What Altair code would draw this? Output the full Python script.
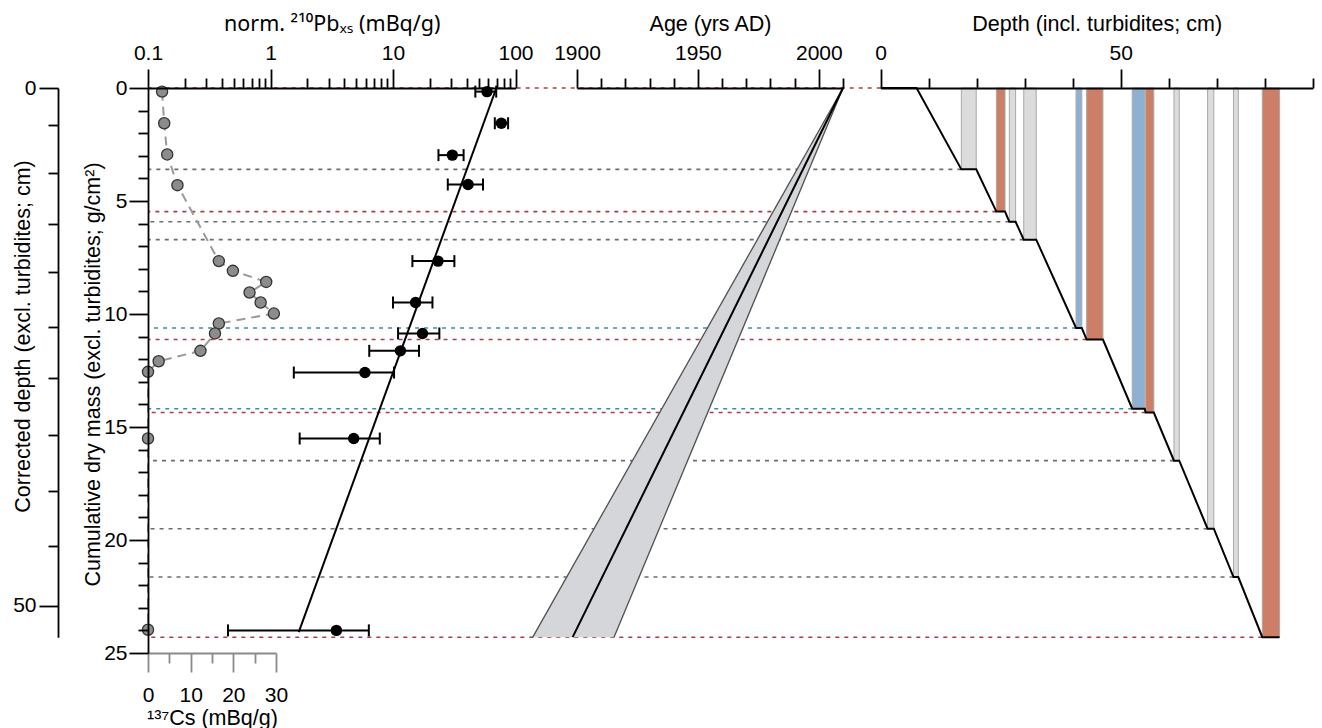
import altair as alt
import pandas as pd

# ---------------- data ----------------
pb_mass = [0.16, 1.56, 2.97, 4.27, 7.66, 9.49, 10.86, 11.63, 12.59, 15.51, 24.0]
pb_val = [58.5, 76.7, 30.5, 41.0, 23.3, 15.3, 17.4, 11.5, 5.9, 4.78, 3.45]
pb_lo = [47.0, 67.8, 23.5, 28.0, 14.4, 10.0, 11.0, 6.4, 1.55, 1.73, 0.45]
pb_hi = [69.6, 87.0, 37.7, 54.3, 31.7, 21.0, 23.9, 16.3, 10.2, 7.8, 6.35]
fit_mass = [0.0, 24.08]
fit_val = [69.8, 1.70]

cs_mass = [0.16, 1.56, 2.94, 4.30, 7.66, 8.09, 8.58, 9.05, 9.49, 9.98, 10.42,
           10.86, 11.63, 12.09, 12.56, 15.51, 23.97]
cs_val = [3.3, 3.8, 4.5, 6.9, 16.6, 19.9, 27.7, 23.8, 26.4, 29.5, 16.6,
          15.7, 12.3, 2.5, 0.0, 0.0, 0.0]

age_mass = [0.0, 24.30]
age_mid = [2010, 1898.2]
age_old = [2010, 1881.7]
age_young = [2010, 1915.3]

hz_mass = [0.0, 3.60, 5.47, 5.92, 6.71, 10.62, 11.13, 14.19, 14.36, 16.49, 19.50, 21.64, 24.30]
hz_top = [0.0, 16.8, 24.1, 26.8, 29.8, 40.7, 42.9, 52.4, 55.2, 61.1, 68.1, 73.5, 79.5]
hz_base = [7.47, 19.9, 25.9, 28.1, 32.4, 41.9, 46.3, 55.0, 56.9, 62.2, 69.4, 74.5, 83.1]
hz_kind = ["red", "gray", "red", "gray", "gray", "blue", "red", "blue", "red",
           "gray", "gray", "gray", "red"]

cd_depth = [0, 5, 10, 15, 20, 25, 30, 35, 40, 45, 50]
cd_mass = [0.0, 1.62, 3.78, 6.02, 8.15, 10.59, 12.83, 15.35, 17.85, 20.27, 22.9]
cd_end_mass = 24.30

age_ticks = [1900, 1950, 2000]

kinds = ["red", "gray", "blue"]
dash_colors = ["#a8404c", "#6e6e6e", "#3f8f9a"]
fill_colors = ["#cc7f66", "#dcdcdc", "#8fafd3"]

# ---------------- tables ----------------
pb_df = pd.DataFrame({"mass": pb_mass, "v": pb_val, "lo": pb_lo, "hi": pb_hi})
caps_df = pd.DataFrame({"v": pb_lo + pb_hi, "mass": pb_mass + pb_mass})
fit_df = pd.DataFrame({"mass": fit_mass, "v": fit_val})
cs_df = pd.DataFrame({"mass": cs_mass, "cs": cs_val})
band_df = pd.DataFrame({"mass": age_mass, "old": age_old, "young": age_young})
edge_df = pd.DataFrame({
    "mass": age_mass + age_mass,
    "year": age_old + age_young,
    "series": ["old"] * len(age_mass) + ["young"] * len(age_mass),
})
mid_df = pd.DataFrame({"mass": age_mass, "year": age_mid})
hz_df = pd.DataFrame({"mass": hz_mass, "top": hz_top, "base": hz_base, "kind": hz_kind})
bars_df = hz_df[hz_df["mass"] > 0].copy()
bars_df["zero"] = 0.0
stair_rows = []
for i, (m, t, b) in enumerate(zip(hz_mass, hz_top, hz_base)):
    stair_rows.append({"depth": t, "mass": m, "ord": 2 * i})
    stair_rows.append({"depth": b, "mass": m, "ord": 2 * i + 1})
stair_df = pd.DataFrame(stair_rows)
cd_df = pd.DataFrame({"cd": cd_depth, "mass": cd_mass})
age_tick_df = pd.DataFrame({"year": age_ticks})

# ---------------- scales ----------------
W, H = 1165, 565
ymass = alt.Scale(domain=[0, 25], range=[0, H], nice=False, zero=False)
cd_scale = alt.Scale(domain=[0, cd_end_mass], range=[0, H * cd_end_mass / 25], nice=False, zero=False)
pb_scale = alt.Scale(type="log", domain=[0.1, 100], range=[0, 367.5], nice=False)
cs_scale = alt.Scale(domain=[0, 30], range=[0, 128], nice=False, zero=False)
age_scale = alt.Scale(domain=[1900, 2010], range=[429, 695], nice=False, zero=False)
dep_scale = alt.Scale(domain=[0, 90], range=[732.7, 1164.7], nice=False, zero=False)

# ---------------- axes ----------------
FS = 21
TFS = 21.5


def axis(orient, values, size, title=None, labels=True, color="black", **kw):
    opts = dict(orient=orient, values=values, tickSize=size, grid=False,
                labelFlush=False, labelOverlap=False, labelBound=False, zindex=1,
                domainColor=color, tickColor=color, domainWidth=1.8, tickWidth=1.8,
                labelFontSize=FS, titleFontSize=TFS, titleFontWeight="normal",
                labelColor="black", titleColor="black", labels=labels, title=title)
    if orient in ("top", "bottom"):
        opts["labelAlign"] = "center"
    opts.update(kw)
    return alt.Axis(**opts)


pb_major = axis("top", [0.1, 1, 10, 100], 19, "norm. ²¹⁰Pbₓₛ (mBq/g)", format="~g",
                labelPadding=6, titlePadding=7, titleFont="Noto Sans")
pb_minor = axis("top", [k * 10.0 ** e for e in (-1, 0, 1) for k in range(2, 10)], 10,
                labels=False, domain=False)
age_major = axis("top", age_ticks, 19, "Age (yrs AD)", format="d",
                 labelPadding=6, titlePadding=7)
age_minor = axis("top", [y for y in range(1910, 2011, 10) if y % 50], 10,
                 labels=False, domain=False)
dep_major = axis("top", [0, 50], 19, "Depth (incl. turbidites; cm)", format="d",
                 labelPadding=6, titlePadding=7)
dep_minor = axis("top", [d for d in range(10, 91, 10) if d != 50], 10,
                 labels=False, domain=False)
cs_major = axis("bottom", [0, 10, 20, 30], 19, "¹³⁷Cs (mBq/g)", color="#8a8a8a",
                format="d", labelPadding=12, titlePadding=2)
cs_minor = axis("bottom", [5, 15, 25], 10, color="#8a8a8a", labels=False, domain=False)
y_major = axis("left", [0, 5, 10, 15, 20, 25], 19,
               "Cumulative dry mass (excl. turbidites; g/cm²)", format="d",
               labelPadding=2, titleX=-55, titleY=286, titleBaseline="middle")
y_minor = axis("left", [v for v in range(1, 25) if v % 5], 10, labels=False, domain=False)
cd_major = axis("left", [cd_mass[0], cd_mass[-1]], 19,
                "Corrected depth (excl. turbidites; cm)", offset=90, labelPadding=3,
                labelExpr=f"datum.value < {cd_mass[1]} ? '{cd_depth[0]}' : '{cd_depth[-1]}'",
                titleX=-35, titleY=248, titleBaseline="middle")
cd_minor = axis("left", cd_mass[1:-1], 10, labels=False, domain=False, offset=90)


def Ym(axis_def=None, field="mass:Q"):
    return alt.Y(field, scale=ymass, axis=axis_def)


# ---------------- layers ----------------
rules = alt.Chart(hz_df).mark_rule(strokeDash=[4, 5], strokeWidth=1.6).encode(
    x=alt.X("top:Q", scale=dep_scale, axis=None),
    x2=alt.value(0),
    y=Ym(),
    color=alt.Color("kind:N", scale=alt.Scale(domain=kinds, range=dash_colors), legend=None),
)

bars = alt.Chart(bars_df).mark_rect(stroke="#a9a9a9", strokeWidth=1).encode(
    x=alt.X("top:Q", scale=dep_scale, axis=dep_major),
    x2="base:Q",
    y=Ym(field="zero:Q"),
    y2="mass:Q",
    fill=alt.Fill("kind:N", scale=alt.Scale(domain=kinds, range=fill_colors), legend=None),
)

stair = alt.Chart(stair_df).mark_line(color="black", strokeWidth=2).encode(
    x=alt.X("depth:Q", scale=dep_scale, axis=dep_minor),
    y=Ym(),
    order="ord:Q",
)

band = alt.Chart(band_df).mark_area(orient="horizontal", color="#d4d6d9", opacity=1).encode(
    x=alt.X("old:Q", scale=age_scale, axis=None),
    x2="young:Q",
    y=Ym(),
)

edges = alt.Chart(edge_df).mark_line(color="#505050", strokeWidth=1.3).encode(
    x=alt.X("year:Q", scale=age_scale, axis=age_minor),
    y=Ym(),
    detail="series:N",
)

mid = alt.Chart(mid_df).mark_line(color="black", strokeWidth=2).encode(
    x=alt.X("year:Q", scale=age_scale, axis=None),
    y=Ym(),
)

age_axis_layer = alt.Chart(age_tick_df).mark_point(opacity=0).encode(
    x=alt.X("year:Q", scale=age_scale, axis=age_major),
)

cs_line = alt.Chart(cs_df).mark_line(color="#9a9a9a", strokeDash=[9, 6], strokeWidth=2).encode(
    x=alt.X("cs:Q", scale=cs_scale, axis=cs_minor),
    y=Ym(y_minor),
    order="mass:Q",
)

cs_pts = alt.Chart(cs_df).mark_circle(size=125, color="#8c8c8c", stroke="#333333",
                                       strokeWidth=1.3, opacity=1).encode(
    x=alt.X("cs:Q", scale=cs_scale, axis=cs_major),
    y=Ym(),
)

fit = alt.Chart(fit_df).mark_line(color="black", strokeWidth=2).encode(
    x=alt.X("v:Q", scale=pb_scale, axis=pb_minor),
    y=Ym(),
)

err = alt.Chart(pb_df).mark_rule(color="black", strokeWidth=2).encode(
    x=alt.X("lo:Q", scale=pb_scale, axis=None),
    x2="hi:Q",
    y=Ym(),
)

caps = alt.Chart(caps_df).mark_tick(orient="vertical", size=12, thickness=2,
                                    color="black", opacity=1).encode(
    x=alt.X("v:Q", scale=pb_scale, axis=None),
    y=Ym(),
)

pb_pts = alt.Chart(pb_df).mark_circle(size=130, color="black", opacity=1).encode(
    x=alt.X("v:Q", scale=pb_scale, axis=pb_major),
    y=Ym(y_major),
)

cd_major_layer = alt.Chart(cd_df).mark_point(opacity=0).encode(
    y=alt.Y("mass:Q", scale=cd_scale, axis=cd_major),
)
cd_minor_layer = alt.Chart(cd_df).mark_point(opacity=0).encode(
    y=alt.Y("mass:Q", scale=cd_scale, axis=cd_minor),
)

chart = (
    alt.layer(rules, bars, stair, band, edges, mid, cs_line, cs_pts, fit, err, caps,
              pb_pts, age_axis_layer, cd_major_layer, cd_minor_layer)
    .resolve_scale(x="independent", y="independent", color="independent", fill="independent")
    .resolve_axis(x="independent", y="independent")
    .properties(width=W, height=H, autosize=alt.AutoSizeParams(type="none"),
                padding={"left": 148, "top": 88, "right": 9, "bottom": 75})
    .configure(font="Liberation Sans", background="white")
    .configure_view(stroke=None)
)

chart.save("out.html", embed_options={"renderer": "svg", "actions": False})
